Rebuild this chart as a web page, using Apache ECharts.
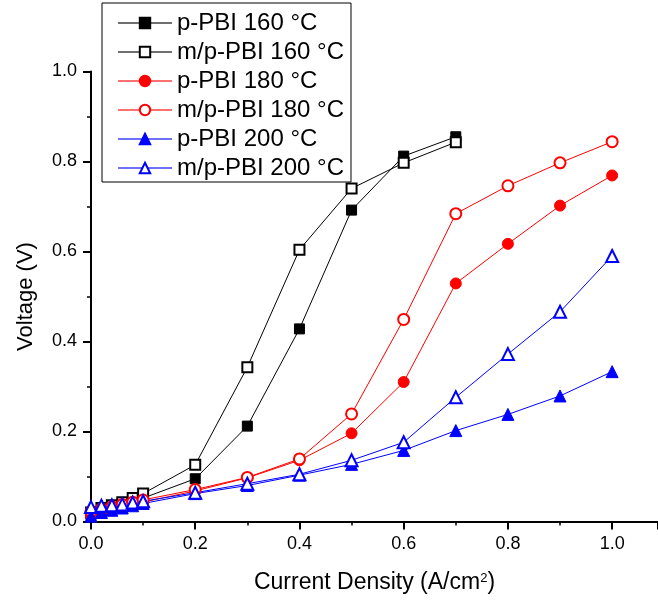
<!DOCTYPE html>
<html>
<head>
<meta charset="utf-8">
<script src="https://cdn.jsdelivr.net/npm/echarts@6/dist/echarts.min.js"></script>
<style>
html,body{margin:0;padding:0;background:#fff;}
#chart{width:658px;height:600px;}
</style>
</head>
<body>
<div id="chart"></div>
<script>
// Current density (A/cm2)
const xLow = [0, 0.02, 0.04, 0.06, 0.08, 0.1, 0.2, 0.3, 0.4, 0.5, 0.6, 0.7];
const xFull = [0, 0.02, 0.04, 0.06, 0.08, 0.1, 0.2, 0.3, 0.4, 0.5, 0.6, 0.7, 0.8, 0.9, 1.0];
// Voltage (V)
const pPBI160  = [0.015, 0.025, 0.032, 0.038, 0.045, 0.052, 0.095, 0.212, 0.428, 0.692, 0.812, 0.855];
const mpPBI160 = [0.020, 0.030, 0.036, 0.043, 0.052, 0.062, 0.126, 0.343, 0.604, 0.740, 0.797, 0.843];
const pPBI180  = [0.012, 0.022, 0.028, 0.033, 0.038, 0.043, 0.068, 0.097, 0.136, 0.196, 0.310, 0.529, 0.617, 0.702, 0.769];
const mpPBI180 = [0.022, 0.028, 0.033, 0.038, 0.043, 0.048, 0.071, 0.098, 0.139, 0.239, 0.449, 0.684, 0.746, 0.797, 0.844];
const pPBI200  = [0.012, 0.020, 0.025, 0.030, 0.035, 0.040, 0.062, 0.080, 0.103, 0.127, 0.158, 0.202, 0.238, 0.279, 0.333];
const mpPBI200 = [0.032, 0.035, 0.036, 0.038, 0.042, 0.045, 0.064, 0.084, 0.105, 0.136, 0.176, 0.276, 0.372, 0.466, 0.590];
const seriesNames = ['p-PBI 160 °C', 'm/p-PBI 160 °C', 'p-PBI 180 °C', 'm/p-PBI 180 °C', 'p-PBI 200 °C', 'm/p-PBI 200 °C'];
const xTickLabels = ['0.0', '0.2', '0.4', '0.6', '0.8', '1.0'];
const yTickLabels = ['0.0', '0.2', '0.4', '0.6', '0.8', '1.0'];

const FONT = '"Liberation Sans", Arial, sans-serif';
const zip = (xs, ys) => ys.map((y, i) => [xs[i], y]);

function mk(name, xs, ys, color, symbol, size) {
  return {
    name, type: 'line', data: zip(xs, ys),
    symbol, symbolSize: size,
    lineStyle: { color, width: 1 },
    itemStyle: { color, borderColor: color, borderWidth: 1 },
    emphasis: { disabled: true },
    animation: false
  };
}

const chart = echarts.init(document.getElementById('chart'), null, { renderer: 'canvas' });
const fmt = (labels) => (v) => {
  const k = v / 0.2;
  if (Math.abs(k - Math.round(k)) < 1e-6) return labels[Math.round(k)] || '';
  return '';
};
chart.setOption({
  animation: false,
  backgroundColor: '#fff',
  textStyle: { fontFamily: FONT },
  grid: { left: 91, top: 71.5, width: 567, height: 450, containLabel: false },
  legend: {
    orient: 'vertical', left: 102, top: 3,
    padding: [8, 7, 2, 15],
    borderColor: '#000', borderWidth: 1,
    itemWidth: 54, itemHeight: 13, itemGap: 5,
    textStyle: { fontSize: 24, color: '#000', fontFamily: FONT, lineHeight: 24 },
    data: [
      { name: seriesNames[0], lineStyle: { color: '#707070' } },
      { name: seriesNames[1], lineStyle: { color: '#707070' } },
      { name: seriesNames[2], lineStyle: { color: '#ff7070' } },
      { name: seriesNames[3], lineStyle: { color: '#ff7070' } },
      { name: seriesNames[4], lineStyle: { color: '#7070ff' } },
      { name: seriesNames[5], lineStyle: { color: '#7070ff' } }
    ]
  },
  xAxis: {
    type: 'value', min: 0, max: 1.088, interval: 0.2,
    name: 'Current Density (A/cm{sup|2})', nameLocation: 'middle', nameGap: 50,
    nameTextStyle: { fontSize: 23, color: '#000', fontFamily: FONT,
      rich: { sup: { fontSize: 13, verticalAlign: 'top', padding: [0,0,10,0], color: '#000', fontFamily: FONT } } },
    axisLine: { show: true, onZero: false, lineStyle: { color: '#000', width: 2 } },
    axisTick: { show: true, inside: false, length: 8, lineStyle: { color: '#000', width: 2 } },
    minorTick: { show: true, splitNumber: 2, length: 4, lineStyle: { color: '#000', width: 1.5 } },
    axisLabel: { fontSize: 18, color: '#000', margin: 14, formatter: fmt(xTickLabels), showMaxLabel: false },
    splitLine: { show: false }, minorSplitLine: { show: false }
  },
  yAxis: {
    type: 'value', min: 0, max: 1.0, interval: 0.2,
    name: 'Voltage (V)', nameLocation: 'middle', nameGap: 54, nameRotate: 90,
    nameTextStyle: { fontSize: 22, color: '#000', fontFamily: FONT },
    axisLine: { show: true, onZero: false, lineStyle: { color: '#000', width: 2 } },
    axisTick: { show: true, inside: false, length: 8, lineStyle: { color: '#000', width: 2 } },
    minorTick: { show: true, splitNumber: 2, length: 4, lineStyle: { color: '#000', width: 1.5 } },
    axisLabel: { fontSize: 18, color: '#000', margin: 14, formatter: fmt(yTickLabels) },
    splitLine: { show: false }, minorSplitLine: { show: false }
  },
  series: [
    mk(seriesNames[0], xLow, pPBI160, '#000000', 'rect', 10),
    mk(seriesNames[1], xLow, mpPBI160, '#000000', 'emptyRect', 10),
    mk(seriesNames[2], xFull, pPBI180, '#ff0000', 'circle', 11),
    mk(seriesNames[3], xFull, mpPBI180, '#ff0000', 'emptyCircle', 11),
    mk(seriesNames[4], xFull, pPBI200, '#0000ff', 'triangle', 12),
    mk(seriesNames[5], xFull, mpPBI200, '#0000ff', 'emptyTriangle', 12)
  ]
});
</script>
</body>
</html>
